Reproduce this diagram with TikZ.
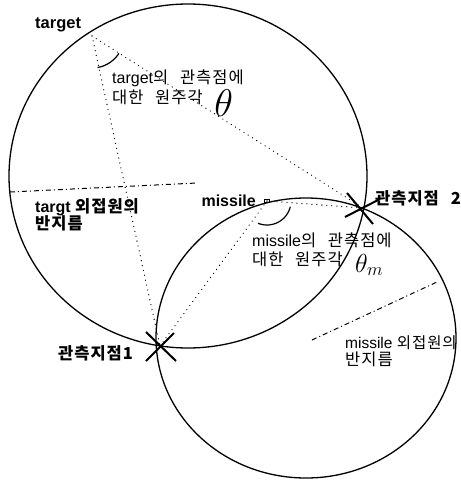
\documentclass[tikz,border=0pt]{standalone}
\usepackage{fontspec}
\setmainfont{Liberation Sans}
\newfontfamily\kr[WordSpace=2.5,LetterSpace=6]{Noto Sans CJK KR}
\newcommand{\krt}[1]{{\kr\fontsize{16.5}{20}\selectfont #1}}
\newcommand{\krs}[1]{{\kr\fontsize{15.5}{20}\selectfont #1}}
\begin{document}
\begin{tikzpicture}[x=1pt,y=-1pt,
  circ/.style={line width=1.3pt},
  dotln/.style={line width=1.3pt,line cap=round,dash pattern=on 0pt off 5pt},
  radln/.style={line width=1pt,dash pattern=on 5pt off 3pt on 1pt off 3pt},
  xmark/.style={line width=2pt},
  anglearc/.style={line width=1.2pt},
  lbl/.style={inner sep=0pt,anchor=base west,text height=12.5pt,text depth=3pt,font=\fontsize{16}{18}\selectfont},
  blbl/.style={lbl,font=\bfseries\fontsize{16}{18}\selectfont}]
\useasboundingbox (0,0) rectangle (461,480);
% key points
\coordinate (T) at (92,36);
\coordinate (P1) at (160,346);
\coordinate (P2) at (363,208);
\coordinate (M) at (267,201);
\coordinate (CT) at (188,176);
\coordinate (CM) at (306,338);
% circles
\draw[circ] (CT) ellipse [x radius=179pt, y radius=172pt];
\draw[circ] (CM) ellipse [x radius=150pt, y radius=140pt];
% dotted chords
\draw[dotln] (T) -- (P1);
\draw[dotln] (T) -- (P2);
\draw[dotln] (M) -- (P1);
\draw[dotln] (M) -- (P2);
% radius lines
\coordinate (RT1) at (10,192);
\coordinate (RT2) at (197,183);
\draw[radln] (RT1) -- (RT2);
\coordinate (RM1) at (312,340);
\coordinate (RM2) at (437,282);
\draw[radln] (RM1) -- (RM2);
% angle arcs
\draw[anglearc,shift={(T)}] plot[domain=33:80,samples=25,smooth] ({32*cos(\x)},{32*sin(\x)});
\draw[anglearc,shift={(M)}] plot[domain=14:112,samples=25,smooth] ({24*cos(\x)},{24*sin(\x)});
% observation point marks
\coordinate (A1) at (146,332); \coordinate (A2) at (176,361);
\coordinate (A3) at (146,361); \coordinate (A4) at (174,333);
\draw[xmark] (A1) -- (A2);
\draw[xmark] (A3) -- (A4);
\coordinate (B1) at (347,193); \coordinate (B2) at (373,224);
\coordinate (B3) at (345,217); \coordinate (B4) at (380,199);
\draw[xmark] (B1) -- (B2);
\draw[xmark] (B3) -- (B4);
% missile marker
\node[draw,line width=1.2pt,minimum width=4.5pt,minimum height=3.5pt,inner sep=0pt] (Mbox) at (M) {};
% labels
\node[blbl,font=\bfseries\fontsize{16.5}{18}\selectfont] (tlab) at (35,28) {target};
\node[lbl] (ta1) at (112,83) {target\krt{의 관측점에}};
\node[lbl] (ta2) at (112,103) {\krt{대한 원주각}};
\node[inner sep=0pt,anchor=base west,scale=1.55] (th) at (214,116) {\fontsize{24.88}{26}\selectfont$\theta$};
\node[blbl] (tr1) at (35,212) {targt \krt{\bfseries 외접원의}};
\node[blbl] (tr2) at (35,229) {\krt{\bfseries 반지름}};
\node[blbl,anchor=base east,font=\bfseries\fontsize{16}{18}\selectfont] (mlab) at (256,206) {missile};
\node[blbl] (p2lab) at (375,204) {\krt{\bfseries 관측지점 2}};
\node[lbl] (ma1) at (252,246) {missile\krt{의 관측점에}};
\node[lbl] (ma2) at (252,265) {\krt{대한 원주각}};
\node[inner sep=0pt,anchor=base west,scale=1.05] (thm) at (355,272) {\fontsize{24.88}{26}\selectfont$\theta_{\scriptscriptstyle m}$};
\node[blbl] (p1lab) at (58,359) {\krt{\bfseries 관측지점1}};
\node[lbl,font=\fontsize{15.5}{18}\selectfont] (mr1) at (345,348) {missile \krs{외접원의}};
\node[lbl] (mr2) at (345,365) {\krt{반지름}};
\end{tikzpicture}
\end{document}
